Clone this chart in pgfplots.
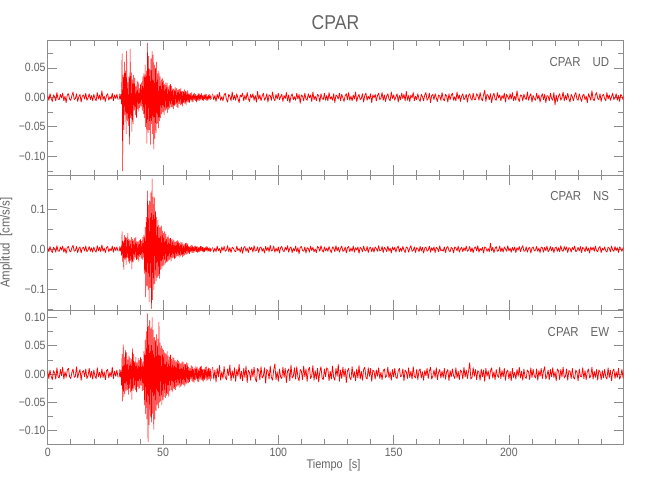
\documentclass[border=0pt]{standalone}
\usepackage{fontspec}
\setmainfont{Liberation Sans}[FakeStretch=0.88]
\usepackage{pgfplots}
\usepackage{pgfplotstable}
\pgfplotsset{compat=1.18}
\definecolor{axgray}{RGB}{140,140,140}
\definecolor{txtgray}{RGB}{100,100,100}
\pgfplotsset{
  seis/.style={
    scale only axis, width=575.6pt,
    xmin=0, xmax=249.6,
    axis line style={axgray, line width=0.6pt},
    every tick/.style={axgray, line width=0.6pt},
    major tick length=9.6pt, minor tick length=5pt,
    tick align=inside,
    xtick={0,50,100,150,200}, minor xtick={10,20,...,240},
    ticklabel style={font=\fontsize{12}{14}\selectfont, text=txtgray},
    yticklabel style={inner xsep=2pt},
    xticklabel style={inner ysep=4pt},
  },
  trace/.style={red, line width=0.75pt, line join=round, mark=none},
  traceb/.style={red, line width=0.5pt, line join=round, mark=none},
}
\begin{document}
% ---------------- UD ----------------
\pgfplotstableread[header=false,row sep=\\]{
3\\-5\\6\\-2\\-7\\4\\1\\-6\\8\\-3\\-4\\5\\-1\\7\\-6\\2\\-9\\4\\6\\-3\\
-5\\3\\9\\-4\\-2\\6\\-7\\1\\5\\-8\\2\\4\\-3\\7\\-5\\-1\\6\\-4\\3\\-6\\
5\\-2\\-6\\8\\-3\\4\\-5\\11\\-4\\2\\-7\\3\\6\\-5\\1\\-3\\7\\-6\\4\\-2\\
5\\-4\\
}\udA
\pgfplotstableread[header=false,row sep=\\]{
-4\\6\\-3\\5\\-12\\74\\-125\\38\\-55\\60\\-30\\45\\-62\\78\\-40\\25\\-48\\35\\-80\\82\\
-35\\42\\-58\\30\\-45\\38\\-22\\33\\-30\\18\\-35\\28\\-20\\26\\-24\\15\\-18\\22\\-15\\25\\
-22\\35\\-28\\40\\-35\\55\\-50\\45\\-78\\92\\-60\\70\\-55\\48\\-80\\65\\-45\\78\\-62\\72\\
-88\\55\\-70\\50\\-60\\60\\-45\\40\\-52\\45\\-40\\35\\-35\\30\\-28\\32\\-25\\28\\-30\\22\\
-22\\25\\-20\\24\\-26\\18\\-21\\20\\-18\\22\\-16\\19\\-17\\15\\-20\\14\\-14\\17\\-12\\15\\
-16\\12\\-18\\13\\-11\\14\\-13\\16\\-12\\10\\-15\\11\\-9\\13\\-11\\10\\-13\\9\\-8\\12\\
-8\\6\\-9\\7\\-5\\8\\-7\\4\\-8\\6\\-4\\7\\-6\\5\\-8\\3\\-5\\7\\-5\\6\\
-6\\4\\-3\\7\\-5\\3\\-6\\4\\-3\\6\\-4\\5\\-6\\2\\-5\\4\\-3\\5\\-4\\3\\
-3\\
}\udB
\pgfplotstableread[header=false,row sep=\\]{
6\\-4\\3\\-7\\5\\-2\\8\\-5\\1\\-6\\4\\7\\-3\\-8\\5\\2\\-6\\9\\-4\\3\\
-5\\6\\-2\\-9\\4\\1\\7\\-6\\3\\-4\\8\\-2\\-7\\5\\-1\\6\\-5\\3\\-8\\10\\
-3\\4\\-6\\2\\7\\-5\\-1\\6\\-8\\4\\3\\-5\\9\\-2\\-6\\5\\-3\\7\\-4\\1\\
5\\-7\\3\\-2\\8\\-6\\4\\-9\\2\\6\\-4\\1\\-5\\7\\-3\\5\\-10\\4\\2\\-6\\
7\\-3\\-5\\6\\-1\\4\\-7\\9\\-4\\2\\-6\\5\\3\\-8\\6\\-2\\-4\\7\\-5\\3\\
-6\\8\\-3\\1\\-5\\6\\-9\\4\\2\\-3\\7\\-6\\5\\-1\\-7\\3\\6\\-4\\8\\-5\\
2\\-6\\4\\-3\\9\\-7\\1\\5\\-4\\-2\\6\\-8\\3\\7\\-5\\2\\-3\\6\\-9\\4\\
-1\\5\\-6\\3\\7\\-4\\-2\\8\\-5\\4\\-7\\2\\6\\-3\\-6\\9\\-2\\4\\-5\\1\\
6\\-8\\3\\-4\\7\\-2\\5\\-6\\10\\-5\\3\\-7\\4\\-1\\8\\-6\\2\\-4\\6\\-3\\
-7\\5\\1\\-6\\4\\8\\-5\\-2\\7\\-9\\3\\5\\-4\\6\\-1\\-7\\4\\2\\-5\\8\\
-3\\-6\\5\\2\\-8\\6\\-4\\3\\7\\-5\\1\\-6\\9\\-3\\4\\-7\\2\\6\\-4\\-1\\
5\\-8\\3\\6\\-2\\-5\\7\\-4\\-4\\6\\3\\-5\\8\\-2\\-6\\4\\12\\-7\\5\\3\\
-4\\6\\-9\\2\\7\\-3\\-5\\8\\-1\\4\\-6\\3\\-2\\7\\-8\\5\\1\\-4\\6\\-3\\
8\\-6\\2\\-5\\11\\-2\\-7\\4\\3\\-6\\5\\-1\\-4\\9\\-5\\2\\6\\-8\\3\\-2\\
-5\\7\\-3\\4\\-8\\1\\6\\-4\\5\\-9\\3\\2\\-6\\7\\-2\\-5\\8\\-13\\4\\-7\\
2\\6\\-5\\-1\\9\\-6\\3\\-4\\7\\-2\\-8\\5\\1\\-6\\4\\8\\-3\\-5\\6\\-1\\
-7\\3\\5\\-4\\2\\-9\\6\\1\\-5\\11\\-3\\-6\\4\\8\\-2\\-4\\6\\-7\\3\\5\\
-2\\-6\\8\\-3\\4\\-5\\1\\7\\-4\\-1\\6\\-5\\3\\-7\\5\\2\\-4\\6\\-3\\2\\
}\udC
% ---------------- NS ----------------
\pgfplotstableread[header=false,row sep=\\]{
4\\-6\\7\\-3\\-8\\5\\2\\-7\\9\\-4\\-5\\6\\-2\\8\\-7\\3\\-10\\5\\7\\-4\\
-6\\4\\10\\-5\\-3\\7\\-8\\2\\6\\-9\\3\\5\\-4\\8\\-6\\-2\\7\\-5\\4\\-7\\
6\\-3\\-7\\9\\-4\\5\\-6\\11\\-5\\3\\-8\\4\\7\\-6\\2\\-4\\8\\-7\\5\\-3\\
6\\-5\\
}\nsA
\pgfplotstableread[header=false,row sep=\\]{
-5\\7\\-4\\6\\-15\\44\\-30\\20\\-50\\35\\-25\\30\\-38\\28\\-20\\40\\-30\\25\\-35\\22\\
-28\\30\\-48\\25\\-32\\22\\-25\\28\\-20\\30\\-26\\18\\-24\\20\\-30\\22\\-18\\25\\-22\\20\\
-25\\30\\-20\\35\\-60\\55\\-118\\80\\-90\\145\\-100\\110\\-130\\120\\-95\\140\\-147\\175\\-125\\130\\
-100\\128\\-85\\95\\-78\\80\\-70\\72\\-65\\60\\-72\\55\\-50\\58\\-48\\45\\-42\\40\\-38\\44\\
-35\\38\\-32\\30\\-30\\34\\-28\\26\\-25\\28\\-30\\24\\-22\\25\\-20\\22\\-24\\18\\-21\\20\\
-18\\22\\-16\\19\\-20\\15\\-17\\18\\-14\\17\\-19\\13\\-16\\12\\-14\\15\\-13\\16\\-11\\14\\
-9\\7\\-11\\8\\-6\\10\\-8\\9\\-9\\6\\-7\\8\\-5\\9\\-6\\7\\-8\\5\\-7\\6\\
-6\\8\\-4\\7\\-5\\6\\-7\\4\\-6\\5\\-3\\7\\-4\\6\\-5\\3\\-5\\4\\-6\\3\\
-3\\
}\nsB
\pgfplotstableread[header=false,row sep=\\]{
5\\-7\\3\\-6\\8\\-4\\2\\-9\\6\\-3\\7\\-5\\-2\\9\\-6\\4\\-8\\5\\3\\-4\\
-6\\8\\-3\\2\\-7\\6\\-10\\4\\7\\-5\\3\\-8\\6\\-1\\5\\-7\\9\\-4\\-3\\6\\
-8\\4\\6\\-5\\2\\-9\\7\\-3\\5\\-6\\10\\-4\\-2\\8\\-7\\3\\-5\\6\\-9\\4\\
7\\-3\\-6\\5\\-2\\9\\-7\\3\\6\\-8\\2\\-4\\8\\-6\\4\\-11\\5\\7\\-3\\-5\\
6\\-9\\4\\2\\-7\\8\\-3\\5\\-6\\1\\-8\\7\\4\\-5\\9\\-2\\-7\\6\\-4\\3\\
-5\\7\\-2\\-8\\6\\3\\-6\\9\\-4\\5\\-7\\2\\8\\-5\\-3\\6\\-9\\4\\7\\-6\\
3\\-5\\8\\-7\\4\\-2\\6\\-10\\5\\2\\-6\\8\\-3\\-4\\7\\-8\\3\\5\\-6\\4\\
-7\\6\\2\\-5\\9\\-4\\-3\\7\\-8\\5\\1\\-6\\8\\-4\\3\\-9\\6\\-2\\5\\-7\\
4\\8\\-6\\3\\-5\\7\\-2\\-8\\6\\4\\-7\\3\\9\\-5\\-3\\6\\-8\\4\\2\\-6\\
7\\-4\\5\\-9\\3\\6\\-5\\-2\\8\\-7\\4\\-3\\6\\-8\\5\\2\\-6\\9\\-4\\-1\\
-5\\6\\-8\\4\\7\\-3\\-6\\5\\2\\-9\\6\\3\\-4\\8\\-7\\1\\5\\-6\\4\\-3\\
8\\-5\\-2\\7\\-6\\4\\-8\\3\\6\\-4\\9\\-7\\2\\-3\\5\\-9\\6\\4\\-5\\2\\
-6\\15\\-4\\5\\-8\\2\\7\\-5\\-3\\8\\-6\\4\\-7\\6\\1\\-5\\9\\-4\\3\\-7\\
5\\-3\\6\\-8\\4\\-2\\7\\-6\\3\\9\\-5\\-4\\6\\-7\\2\\5\\-9\\3\\6\\-4\\
-2\\7\\-5\\3\\-8\\6\\4\\-7\\5\\-3\\8\\-6\\-2\\7\\-4\\5\\-8\\3\\6\\-5\\
4\\-6\\9\\-3\\-5\\7\\-2\\6\\-8\\4\\3\\-7\\5\\-1\\8\\-6\\-3\\5\\-4\\7\\
-8\\5\\2\\-6\\7\\-4\\3\\-9\\6\\-2\\5\\-5\\8\\-3\\-6\\4\\7\\-8\\3\\-2\\
6\\-4\\-7\\5\\3\\-6\\8\\-2\\-5\\7\\-3\\4\\-8\\6\\2\\-5\\4\\-6\\5\\-3\\
}\nsC
% ---------------- EW ----------------
\pgfplotstableread[header=false,row sep=\\]{
5\\-8\\7\\-4\\-10\\6\\2\\-9\\11\\-5\\-7\\8\\-3\\12\\-9\\4\\-6\\7\\10\\-5\\
-8\\3\\9\\-6\\-4\\13\\-7\\2\\8\\-11\\4\\6\\-5\\9\\-8\\-3\\10\\-6\\5\\-9\\
7\\-4\\-8\\11\\-5\\3\\-7\\9\\-6\\4\\-10\\6\\8\\-7\\3\\-5\\12\\-8\\5\\-4\\
7\\-6\\
}\ewA
\pgfplotstableread[header=false,row sep=\\]{
-6\\8\\-5\\7\\-20\\35\\-48\\52\\-40\\30\\-35\\42\\-30\\38\\-28\\25\\-36\\32\\-25\\28\\
-32\\26\\-45\\45\\-30\\35\\-25\\22\\-28\\30\\-32\\20\\-22\\28\\-26\\24\\-25\\30\\-20\\26\\
-30\\22\\-28\\40\\-55\\60\\-70\\75\\-80\\107\\-120\\85\\-90\\95\\-75\\80\\-85\\100\\-70\\78\\
-98\\65\\-80\\60\\-65\\70\\-55\\62\\-60\\92\\-50\\55\\-48\\50\\-55\\45\\-46\\42\\-40\\38\\
-42\\36\\-38\\40\\-35\\32\\-40\\30\\-30\\34\\-28\\26\\-32\\30\\-25\\28\\-26\\24\\-28\\22\\
-22\\25\\-20\\23\\-24\\20\\-22\\18\\-20\\22\\-18\\21\\-19\\18\\-22\\17\\-18\\20\\-16\\19\\
-16\\12\\-14\\10\\-9\\15\\-12\\13\\-14\\9\\-15\\10\\-11\\14\\-8\\12\\-13\\9\\-14\\11\\
-9\\13\\-10\\14\\-12\\8\\-13\\9\\-10\\12\\-7\\13\\-12\\8\\-10\\11\\-8\\10\\-12\\9\\
-8\\
}\ewB
\pgfplotstableread[header=false,row sep=\\]{
12\\-9\\7\\-14\\10\\-5\\15\\-11\\4\\-8\\13\\-6\\-10\\9\\-3\\16\\-12\\6\\-7\\11\\
-13\\8\\-4\\17\\-9\\5\\-12\\10\\-6\\14\\-15\\7\\3\\-11\\9\\-5\\12\\-8\\-14\\10\\
6\\-10\\13\\-7\\-4\\11\\-16\\8\\5\\-9\\14\\-6\\-11\\7\\18\\-10\\4\\-13\\9\\-5\\
-8\\12\\-6\\10\\-15\\5\\9\\-12\\16\\-7\\-4\\11\\-9\\13\\-6\\-12\\8\\5\\-10\\14\\
-5\\9\\-13\\7\\12\\-8\\-3\\15\\-11\\6\\-9\\10\\-14\\4\\13\\-7\\-10\\9\\-5\\11\\
8\\-12\\5\\-9\\14\\-6\\-11\\10\\-4\\17\\-13\\7\\-8\\12\\-5\\9\\-15\\6\\10\\-7\\
-10\\13\\-6\\4\\-12\\9\\-7\\15\\-9\\5\\-11\\8\\12\\-6\\-9\\11\\-4\\10\\-13\\7\\
5\\-9\\7\\-4\\11\\-8\\3\\-10\\6\\9\\-6\\-3\\12\\-7\\4\\-11\\8\\-5\\10\\-6\\
-8\\6\\10\\-5\\-3\\9\\-12\\7\\4\\-8\\11\\-6\\5\\-9\\13\\-4\\-7\\8\\-10\\6\\
9\\-7\\4\\-11\\6\\-3\\10\\-8\\5\\12\\-9\\-4\\7\\-6\\11\\-10\\3\\8\\-7\\5\\
-6\\10\\-9\\4\\8\\-12\\6\\-5\\9\\-3\\-8\\11\\-7\\5\\-10\\7\\4\\-9\\12\\-5\\
7\\-8\\5\\20\\-9\\-6\\11\\-4\\8\\-10\\6\\3\\-11\\9\\-5\\7\\-13\\10\\-4\\6\\
-9\\5\\11\\-7\\4\\-10\\8\\-3\\-6\\12\\-8\\6\\-5\\10\\-11\\4\\7\\-9\\5\\-12\\
10\\-6\\3\\-9\\8\\-4\\12\\-7\\5\\-11\\9\\-5\\-8\\7\\4\\-10\\11\\-6\\8\\-3\\
-7\\9\\-11\\6\\-4\\10\\-8\\5\\13\\-9\\-3\\7\\-10\\8\\-5\\11\\-6\\4\\-12\\9\\
6\\-10\\8\\-5\\12\\-7\\-4\\9\\-11\\6\\5\\-8\\10\\-6\\-9\\7\\3\\-12\\9\\-4\\
-5\\11\\-8\\6\\-10\\4\\9\\-7\\-3\\12\\-9\\5\\-6\\8\\-11\\7\\4\\-10\\6\\-7\\
8\\-5\\-9\\11\\-6\\7\\-12\\5\\9\\-8\\4\\-6\\10\\-9\\-4\\8\\-7\\11\\-5\\6\\
}\ewC
\begin{tikzpicture}
% ---- UD ----
\begin{axis}[seis, name=top, at={(0,0)}, anchor=north west, height=134.3pt,
  ymin=-0.1319, ymax=0.0961,
  ytick={-0.1,-0.05,0,0.05}, yticklabels={−0.10,−0.05,0.00,0.05},
  minor ytick={-0.125,-0.075,-0.025,0.025,0.075},
  xticklabels={}]
\addplot[trace] table[x index=0, y index=0, x expr=\coordindex*0.5, y expr=\thisrowno{0}*0.001] {\udA};
\addplot[traceb] table[x index=0, y index=0, x expr=31+\coordindex*0.25, y expr=\thisrowno{0}*0.001] {\udB};
\addplot[trace] table[x index=0, y index=0, x expr=71.5+\coordindex*0.5, y expr=\thisrowno{0}*0.001] {\udC};
\end{axis}
% ---- NS ----
\begin{axis}[seis, name=mid, at={(top.south west)}, anchor=north west, height=135pt,
  ymin=-0.1506, ymax=0.1844,
  ytick={-0.1,0,0.1}, yticklabels={−0.1,0.0,0.1},
  minor ytick={-0.15,-0.05,0.05,0.15},
  xticklabels={}]
\addplot[trace] table[x index=0, y index=0, x expr=\coordindex*0.5, y expr=\thisrowno{0}*0.001] {\nsA};
\addplot[traceb] table[x index=0, y index=0, x expr=31+\coordindex*0.25, y expr=\thisrowno{0}*0.001] {\nsB};
\addplot[trace] table[x index=0, y index=0, x expr=71.5+\coordindex*0.5, y expr=\thisrowno{0}*0.001] {\nsC};
\end{axis}
% ---- EW ----
\begin{axis}[seis, name=bot, at={(mid.south west)}, anchor=north west, height=134.3pt,
  ymin=-0.1244, ymax=0.1133,
  ytick={-0.1,-0.05,0,0.05,0.1}, yticklabels={−0.10,−0.05,0.00,0.05,0.10},
  minor ytick={-0.075,-0.025,0.025,0.075},
  xticklabels={0,50,100,150,200}]
\addplot[trace] table[x index=0, y index=0, x expr=\coordindex*0.5, y expr=\thisrowno{0}*0.001] {\ewA};
\addplot[traceb] table[x index=0, y index=0, x expr=31+\coordindex*0.25, y expr=\thisrowno{0}*0.001] {\ewB};
\addplot[trace] table[x index=0, y index=0, x expr=71.5+\coordindex*0.5, y expr=\thisrowno{0}*0.001] {\ewC};
\end{axis}
% ---- texts ----
\node[anchor=base, text=txtgray, font=\fontsize{20}{24}\selectfont, inner sep=0pt] at ([yshift=11.4pt]top.north) {CPAR};
\node[anchor=base east, text=txtgray, font=\fontsize{13}{15}\selectfont, inner sep=0pt] at ([xshift=-14pt,yshift=-25.3pt]top.north east) {CPAR\hspace{12pt}UD};
\node[anchor=base east, text=txtgray, font=\fontsize{13}{15}\selectfont, inner sep=0pt] at ([xshift=-14pt,yshift=-25.7pt]mid.north east) {CPAR\hspace{12pt}NS};
\node[anchor=base east, text=txtgray, font=\fontsize{13}{15}\selectfont, inner sep=0pt] at ([xshift=-14pt,yshift=-26pt]bot.north east) {CPAR\hspace{12pt}EW};
\node[rotate=90, text=txtgray, font=\fontsize{13}{15}\selectfont, inner sep=0pt] at ([xshift=-41.4pt]mid.west) {Amplitud\ \ [cm/s/s]};
\node[text=txtgray, font=\fontsize{12.5}{15}\selectfont, inner sep=0pt] at ([xshift=-2pt,yshift=-20.7pt]bot.south) {Tiempo\ \ [s]};
\pgfresetboundingbox
\path[use as bounding box] ([xshift=-47.7pt,yshift=-55.7pt]bot.south west) rectangle ([xshift=26.7pt,yshift=40.7pt]top.north east);
\end{tikzpicture}
\end{document}
